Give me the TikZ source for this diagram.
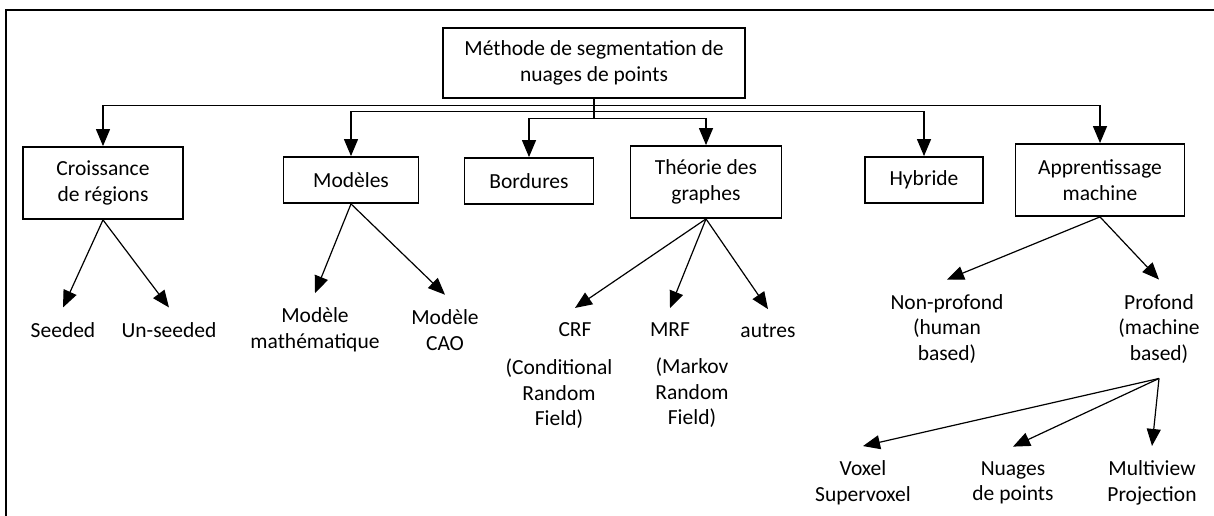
\documentclass[tikz,border=0pt]{standalone}
\usepackage{fontspec}
\setmainfont{Carlito}
\usetikzlibrary{arrows.meta}

\tikzset{
  box/.style={draw, line width=1.8pt, align=center, minimum height=46pt, inner sep=3pt},
  leaf/.style={align=center, inner sep=0pt, outer sep=15pt},
  conn/.style={line width=1.2pt, -{Triangle[length=17pt,width=14pt]}}
}

\begin{document}
\begin{tikzpicture}[x=1pt, y=-1pt, font=\fontsize{21.5}{25.5}\selectfont]
          \useasboundingbox (0,0) rectangle (1214,516);
          \draw[line width=2pt] (6,516) -- (6,10) -- (1214,10);

          \node[box, minimum width=302pt, minimum height=70pt] (meth) at (594,63) {Méthode de segmentation de\\nuages de points};

          \node[box, minimum width=160pt, minimum height=72pt] (croiss) at (103,183) {Croissance\\de régions};
          \node[box, minimum width=135pt] (modeles) at (351,180) {Modèles};
          \node[box, minimum width=129pt] (bord) at (529,181) {Bordures};
          \node[box, minimum width=151pt, minimum height=72pt] (theorie) at (706,182) {Théorie des\\graphes};
          \node[box, minimum width=118pt] (hybr) at (924,180) {Hybride};
          \node[box, minimum width=169pt, minimum height=72pt] (appr) at (1100,180) {Apprentissage\\machine};

          \node[leaf] (seeded) at (63,330) {Seeded};
          \node[leaf] (unseeded) at (169,330) {Un-seeded};
          \node[leaf] (math) at (315,330) {Modèle\\mathématique};
          \node[leaf] (cao) at (445,330) {Modèle\\CAO};
          \node[leaf] (crf) at (575,330) {CRF};
          \node[leaf] (crfnote) at (559,394) {(Conditional\\Random\\Field)};
          \node[leaf] (mrf) at (670,330) {MRF};
          \node[leaf] (mrfnote) at (692,393) {(Markov\\Random\\Field)};
          \node[leaf] (autres) at (768,331) {autres};
          \node[leaf] (nonprof) at (947,329) {Non-profond\\(human\\based)};
          \node[leaf] (prof) at (1159,329) {Profond\\(machine\\based)};
          \node[leaf] (voxel) at (863,483) {Voxel\\Supervoxel};
          \node[leaf] (nuages) at (1013,483) {Nuages\\de points};
          \node[leaf] (multi) at (1152,483) {Multiview\\Projection};

          % elbows from the top box
          \foreach \n/\d in {croiss/7, modeles/13, bord/20, theorie/20, hybr/13, appr/7} {
            \draw[conn] (meth.south) -- ++(0,\d) -| (\n.north);
          }

          \foreach \a/\b in {croiss/seeded, croiss/unseeded, modeles/math, modeles/cao,
                             theorie/crf, theorie/mrf, theorie/autres, appr/nonprof, appr/prof,
                             prof/voxel, prof/nuages, prof/multi} {
            \draw[conn] (\a.south) -- (\b.north);
          }
        \end{tikzpicture}
\end{document}
